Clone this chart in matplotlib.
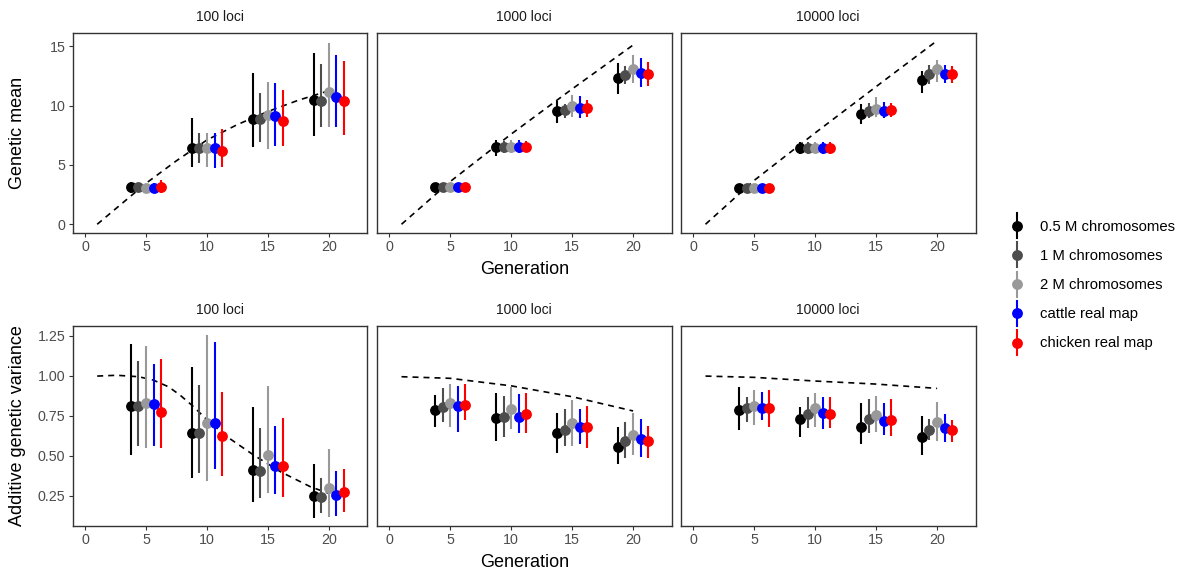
import matplotlib
matplotlib.use("Agg")
import matplotlib.pyplot as plt
from matplotlib.lines import Line2D
from matplotlib.legend_handler import HandlerBase

plt.rcParams['font.family'] = ['Liberation Sans', 'DejaVu Sans']

# ---------------- data ----------------
generations = [5, 10, 15, 20]
series = ['0.5 M chromosomes', '1 M chromosomes', '2 M chromosomes',
          'cattle real map', 'chicken real map']
colors = ['#000000', '#4D4D4D', '#999999', '#0000FF', '#FF0000']
loci_labels = ['100 loci', '1000 loci', '10000 loci']
x_ticks = [0, 5, 10, 15, 20]

# Genetic mean, 100 loci (rows = series, cols = generations)
gm100_mean = [[3.10, 6.40, 8.87, 10.47], [3.10, 6.40, 8.85, 10.39], [3.05, 6.45, 9.20, 11.15],
              [3.05, 6.40, 9.12, 10.70], [3.10, 6.20, 8.70, 10.39]]
gm100_lo = [[2.60, 4.85, 6.54, 7.44], [2.70, 5.14, 6.96, 8.22], [2.70, 4.85, 6.32, 8.22],
            [2.60, 4.72, 6.62, 8.22], [2.60, 4.85, 6.62, 7.52]]
gm100_hi = [[3.60, 8.93, 12.77, 14.46], [3.50, 7.72, 11.09, 13.50], [3.40, 7.66, 12.01, 15.30],
            [3.50, 7.72, 11.88, 14.26], [3.70, 8.05, 11.31, 13.76]]
# Genetic mean, 1000 loci
gm1000_mean = [[3.10, 6.50, 9.57, 12.30], [3.10, 6.50, 9.62, 12.58], [3.10, 6.55, 9.97, 13.06],
               [3.10, 6.55, 9.77, 12.72], [3.10, 6.55, 9.77, 12.64]]
gm1000_lo = [[2.60, 5.75, 8.51, 10.98], [2.80, 6.00, 8.93, 11.80], [2.80, 6.00, 9.01, 11.88],
             [2.80, 6.00, 8.93, 11.54], [2.80, 6.05, 9.07, 11.68]]
gm1000_hi = [[3.50, 7.10, 10.41, 13.56], [3.40, 7.00, 10.13, 13.33], [3.40, 7.10, 10.89, 14.26],
             [3.45, 7.10, 10.83, 13.98], [3.45, 7.05, 10.47, 13.65]]
# Genetic mean, 10000 loci
gm10000_mean = [[3.03, 6.40, 9.27, 12.16], [3.03, 6.42, 9.57, 12.64], [3.03, 6.45, 9.74, 13.06],
                [3.03, 6.42, 9.57, 12.64], [3.03, 6.45, 9.60, 12.64]]
gm10000_lo = [[2.60, 5.90, 8.42, 11.04], [2.70, 5.90, 8.93, 11.85], [2.70, 6.00, 9.07, 12.01],
              [2.65, 5.95, 8.93, 11.90], [2.70, 5.95, 9.07, 11.90]]
gm10000_hi = [[3.40, 6.90, 10.13, 12.94], [3.35, 6.95, 10.20, 13.40], [3.35, 6.90, 10.75, 13.84],
              [3.40, 6.95, 10.30, 13.45], [3.40, 6.95, 10.20, 13.30]]

# Additive genetic variance, 100 loci
va100_mean = [[0.812, 0.644, 0.411, 0.248], [0.810, 0.644, 0.404, 0.240], [0.831, 0.702, 0.504, 0.300],
              [0.821, 0.706, 0.438, 0.254], [0.775, 0.623, 0.438, 0.271]]
va100_lo = [[0.504, 0.359, 0.209, 0.109], [0.563, 0.394, 0.234, 0.140], [0.550, 0.342, 0.269, 0.119],
            [0.561, 0.415, 0.259, 0.125], [0.546, 0.373, 0.240, 0.146]]
va100_hi = [[1.196, 1.056, 0.802, 0.448], [1.094, 0.942, 0.671, 0.359], [1.186, 1.254, 0.937, 0.540],
            [1.071, 1.212, 0.688, 0.406], [1.104, 0.896, 0.737, 0.417]]
# Additive genetic variance, 1000 loci
va1000_mean = [[0.786, 0.734, 0.640, 0.556], [0.802, 0.740, 0.661, 0.594], [0.831, 0.790, 0.706, 0.629],
               [0.812, 0.744, 0.681, 0.604], [0.817, 0.759, 0.681, 0.592]]
va1000_lo = [[0.681, 0.594, 0.519, 0.446], [0.713, 0.615, 0.563, 0.488], [0.677, 0.665, 0.563, 0.504],
             [0.650, 0.644, 0.571, 0.494], [0.723, 0.640, 0.546, 0.484]]
va1000_hi = [[0.880, 0.894, 0.765, 0.677], [0.921, 0.873, 0.790, 0.713], [0.948, 0.927, 0.848, 0.765],
             [0.936, 0.886, 0.790, 0.729], [0.948, 0.894, 0.812, 0.688]]
# Additive genetic variance, 10000 loci
va10000_mean = [[0.786, 0.727, 0.681, 0.619], [0.796, 0.759, 0.727, 0.661], [0.812, 0.796, 0.754, 0.713],
                [0.796, 0.769, 0.719, 0.671], [0.796, 0.761, 0.723, 0.661]]
va10000_lo = [[0.661, 0.619, 0.571, 0.504], [0.713, 0.675, 0.640, 0.598], [0.692, 0.677, 0.646, 0.592],
              [0.723, 0.665, 0.629, 0.584], [0.681, 0.675, 0.625, 0.584]]
va10000_hi = [[0.927, 0.802, 0.827, 0.748], [0.865, 0.869, 0.852, 0.729], [0.911, 0.890, 0.875, 0.838],
              [0.900, 0.865, 0.827, 0.759], [0.911, 0.865, 0.852, 0.723]]

# Expected (dashed) curves
exp_gm100_gen = [1, 5, 7.5, 10, 12.5, 15, 17.5, 20]
exp_gm100 = [0.0, 3.45, 5.35, 7.1, 8.4, 9.5, 10.45, 11.25]
exp_gm1000_gen = [1, 5, 10, 15, 20]
exp_gm1000 = [0.0, 3.6, 7.6, 11.4, 15.1]
exp_gm10000_gen = [1, 5, 10, 15, 20]
exp_gm10000 = [0.0, 3.7, 7.7, 11.6, 15.47]
exp_va100_gen = [1, 2.6, 4.4, 5.6, 6.85, 7.8, 8.9, 10, 11.65, 13.84, 16.04, 18.5, 20]
exp_va100 = [0.998, 1.003, 0.994, 0.973, 0.931, 0.879, 0.807, 0.725, 0.619, 0.504, 0.40, 0.306, 0.265]
exp_va1000_gen = [1, 5, 10, 15, 20]
exp_va1000 = [0.994, 0.984, 0.937, 0.869, 0.78]
exp_va10000_gen = [1, 5, 10, 15, 20]
exp_va10000 = [0.998, 0.99, 0.967, 0.948, 0.921]

dodge = [-1.25, -0.625, 0.0, 0.625, 1.25]

# ---------------- figure ----------------
W, H = 1183, 571
fig = plt.figure(figsize=(W / 100, H / 100), dpi=100)

lefts = [72.7, 377.0, 681.0]
pw = 294.5
rows = [(32.7, 232.7), (326.0, 526.0)]

panels = [
    [(gm100_mean, gm100_lo, gm100_hi, exp_gm100_gen, exp_gm100),
     (gm1000_mean, gm1000_lo, gm1000_hi, exp_gm1000_gen, exp_gm1000),
     (gm10000_mean, gm10000_lo, gm10000_hi, exp_gm10000_gen, exp_gm10000)],
    [(va100_mean, va100_lo, va100_hi, exp_va100_gen, exp_va100),
     (va1000_mean, va1000_lo, va1000_hi, exp_va1000_gen, exp_va1000),
     (va10000_mean, va10000_lo, va10000_hi, exp_va10000_gen, exp_va10000)],
]
ylims = [(-0.71, 16.14), (0.061, 1.311)]
yticks = [[0, 5, 10, 15], [0.25, 0.50, 0.75, 1.00, 1.25]]
yticklabels = [['0', '5', '10', '15'], ['0.25', '0.50', '0.75', '1.00', '1.25']]
ylabels = ['Genetic mean', 'Additive genetic variance']

tick_col = '#4D4D4D'
for r, (top, bot) in enumerate(rows):
    for c in range(3):
        ax = fig.add_axes([lefts[c] / W, 1 - bot / H, pw / W, (bot - top) / H])
        mean, lo, hi, eg, ev = panels[r][c]
        ax.plot(eg, ev, color='black', lw=1.2, dashes=(3.6, 3.0), zorder=1)
        for s in range(5):
            xs = [g + dodge[s] for g in generations]
            for i, x in enumerate(xs):
                ax.plot([x, x], [lo[s][i], hi[s][i]], color=colors[s], lw=1.5,
                        solid_capstyle='butt', zorder=2 + s)
            ax.plot(xs, mean[s], 'o', color=colors[s], ms=7.8, mec='none', zorder=2 + s)
        ax.set_xlim(-1.01, 23.15)
        ax.set_ylim(*ylims[r])
        ax.set_xticks(x_ticks)
        ax.set_xticklabels([str(t) for t in x_ticks])
        ax.set_yticks(yticks[r])
        if c == 0:
            ax.set_yticklabels(yticklabels[r])
        else:
            ax.tick_params(axis='y', left=False, labelleft=False)
        ax.tick_params(axis='both', length=3, width=0.8, color='#333333',
                       labelcolor=tick_col, labelsize=10.3, pad=2.2)
        for sp in ax.spines.values():
            sp.set_color('#333333')
            sp.set_linewidth(1.0)
        ax.annotate(loci_labels[c], (0.5, 1.0), xycoords='axes fraction',
                    xytext=(0, 11.5), textcoords='offset points',
                    ha='center', va='center', fontsize=10, color='#1A1A1A')
        if c == 1:
            ax.set_xlabel('Generation', fontsize=13, color='black', labelpad=5)
    fig.text(18 / W, 1 - ((top + bot) / 2) / H, ylabels[r], rotation=90,
             ha='center', va='center', fontsize=13, color='black')


class VPointHandler(HandlerBase):
    def create_artists(self, legend, orig_handle, xdescent, ydescent,
                       width, height, fontsize, trans):
        cx = -xdescent + width / 2
        cy = -ydescent + height / 2
        col = orig_handle.get_color()
        ln = Line2D([cx, cx], [cy - 9, cy + 9], color=col, lw=1.5, transform=trans)
        pt = Line2D([cx], [cy], marker='o', color=col, ms=7.8, mec='none',
                    linestyle='none', transform=trans)
        return [ln, pt]


handles = [Line2D([], [], color=col) for col in colors]
fig.legend(handles, series, handler_map={Line2D: VPointHandler()},
           loc='center left', bbox_to_anchor=(1009.5 / W, 1 - 284.2 / H),
           frameon=False, fontsize=10.7, handlelength=1.0, handleheight=1.6,
           handletextpad=1.05, labelspacing=0.68, borderpad=0, borderaxespad=0)

fig.savefig('out.png', dpi=100)
